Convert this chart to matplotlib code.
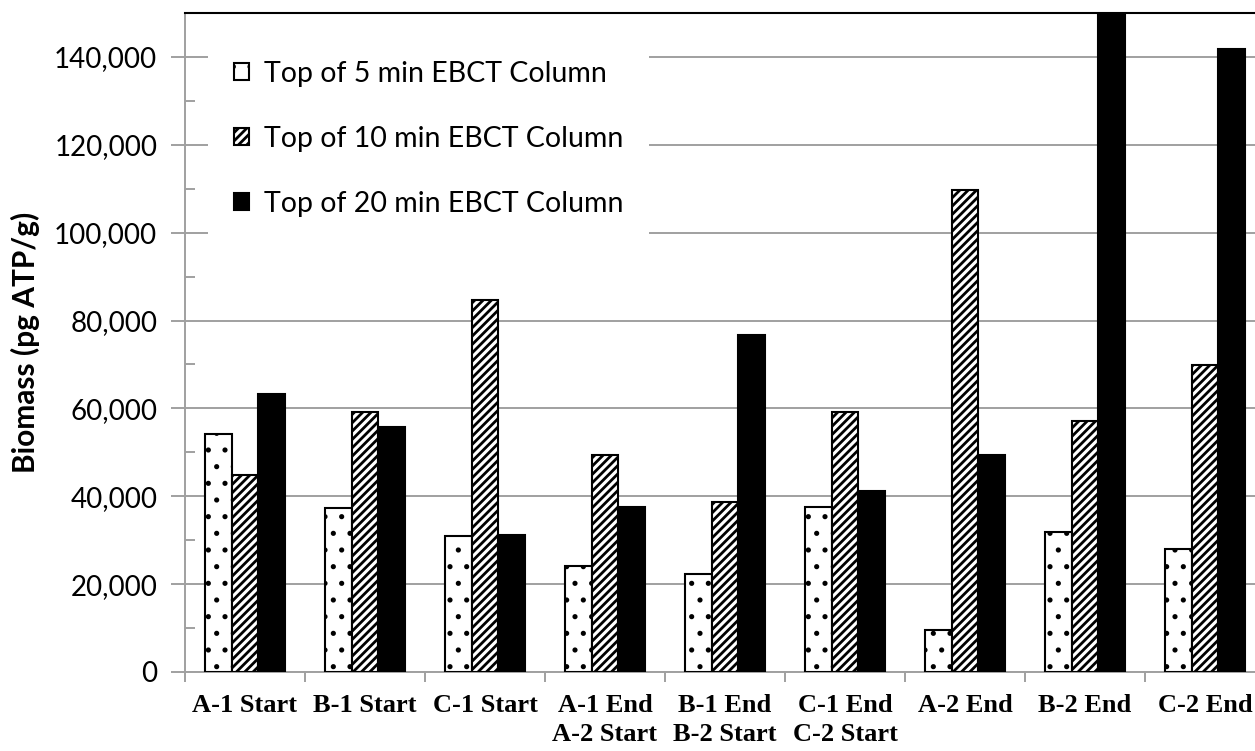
import matplotlib
matplotlib.use("Agg")
import matplotlib.pyplot as plt
import matplotlib.hatch as mhatch
import numpy as np
from matplotlib.ticker import FuncFormatter, MultipleLocator

categories = [
    "A-1 Start", "B-1 Start", "C-1 Start",
    "A-1 End\nA-2 Start", "B-1 End\nB-2 Start", "C-1 End\nC-2 Start",
    "A-2 End", "B-2 End", "C-2 End",
]
series_names = [
    "Top of 5 min EBCT Column",
    "Top of 10 min EBCT Column",
    "Top of 20 min EBCT Column",
]
top_5min = [54200, 37300, 31000, 24200, 22400, 37600, 9600, 31900, 27900]
top_10min = [44900, 59100, 84600, 49400, 38600, 59200, 109600, 57200, 69800]
top_20min = [63300, 55700, 31200, 37600, 76700, 41200, 49400, 158000, 141700]

# smaller dots for the '.' hatch
mhatch.SmallFilledCircles.size = 0.07
plt.rcParams["hatch.linewidth"] = 2.0
plt.rcParams["font.family"] = ["Lato", "DejaVu Sans"]

fig = plt.figure(figsize=(12.55, 7.51), dpi=100)
W, H = 1255, 751
ax = fig.add_axes([185 / W, (H - 672) / H, 1080 / W, 659 / H])

x = np.arange(len(categories))
bw = 0.222
styles = [
    dict(color="white", hatch="."),
    dict(color="white", hatch="////"),
    dict(color="black", hatch=None),
]
for i, (vals, name, st) in enumerate(zip([top_5min, top_10min, top_20min], series_names, styles)):
    ax.bar(x + (i - 1) * bw, vals, bw, label=name, color=st["color"],
           hatch=st["hatch"], edgecolor="black", linewidth=1.5, zorder=3)

ax.set_xlim(-0.5, len(categories) - 0.5)
ax.set_ylim(0, 150000)
ax.yaxis.set_major_locator(MultipleLocator(20000))
ax.yaxis.set_minor_locator(MultipleLocator(10000))
ax.yaxis.set_major_formatter(FuncFormatter(lambda v, p: f"{int(v):,}"))
ax.grid(axis="y", which="major", color="#a0a0a0", linewidth=1.4, zorder=0)
ax.set_axisbelow(True)

ax.set_xticks(x)
ax.set_xticklabels(categories, fontfamily="Liberation Serif", fontweight="bold",
                   fontsize=19, linespacing=1.3)
ax.set_xticks(np.arange(len(categories) + 1) - 0.5, minor=True)
ax.tick_params(axis="x", which="major", length=0, pad=16)
ax.tick_params(axis="x", which="minor", length=7, width=1.4, color="#a0a0a0", direction="out")
ax.tick_params(axis="y", which="major", length=10, width=1.4, color="#a0a0a0",
               direction="out", labelsize=20, pad=10)
ax.tick_params(axis="y", which="minor", length=7, width=1.4, color="#a0a0a0", direction="in")

for s in ["left", "bottom"]:
    ax.spines[s].set_color("#a0a0a0")
    ax.spines[s].set_linewidth(1.4)
ax.spines["top"].set_color("black")
ax.spines["top"].set_linewidth(1.5)
ax.spines["right"].set_visible(False)

ax.set_ylabel("Biomass (pg ATP/g)", fontsize=21.5, fontweight="bold", labelpad=10)

leg = ax.legend(loc="upper left", bbox_to_anchor=((208 - 185) / 1080, (672 - 35) / 659),
                borderaxespad=0, borderpad=0.9, fontsize=20.5, frameon=True,
                fancybox=False, edgecolor="none", facecolor="white", framealpha=1,
                handlelength=0.55, handleheight=0.55, handletextpad=0.5, labelspacing=1.37)
leg.set_zorder(5)

fig.savefig("out.png", dpi=100)
